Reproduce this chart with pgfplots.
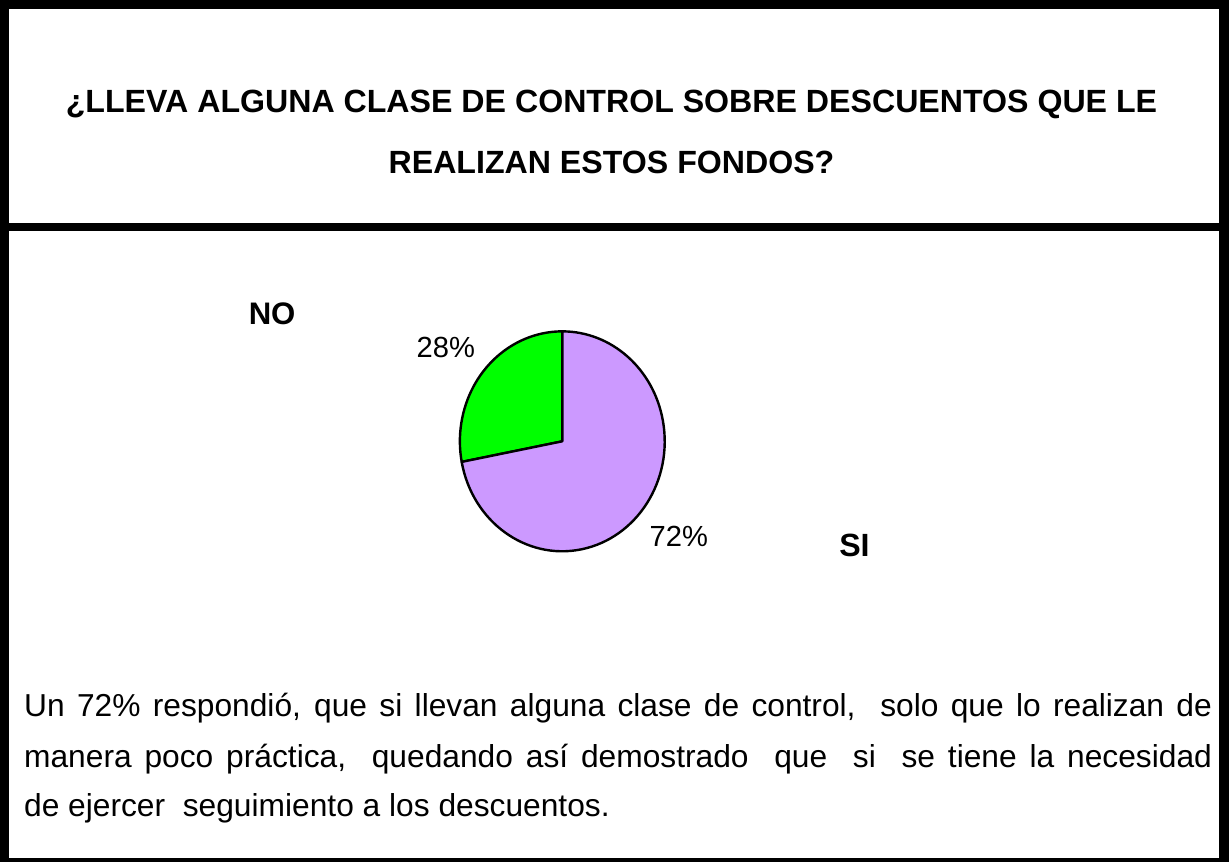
\documentclass[border=0pt]{standalone}
\usepackage{pgfplots}
\usepackage{pgfplotstable}
\pgfplotsset{compat=1.18}
\usepackage{fontspec}
\setmainfont{Liberation Sans}
\definecolor{sigreen}{HTML}{00FF00}
\definecolor{silila}{HTML}{CC99FF}
\pgfplotstableread{
label value
SI 72
NO 28
}\piedata
\begin{document}
\begin{tikzpicture}
\pgfplotstablegetelem{0}{value}\of\piedata \let\vsi\pgfplotsretval
\pgfplotstablegetelem{1}{value}\of\piedata \let\vno\pgfplotsretval
\pgfmathsetmacro{\angA}{90}
\pgfmathsetmacro{\angB}{90+3.6*\vno}
\pgfmathsetmacro{\angC}{\angB+3.6*\vsi}
\begin{axis}[
  width=614.5pt, height=430.5pt, scale only axis,
  xmin=0, xmax=1229, ymin=0, ymax=861, y dir=reverse,
  hide axis, clip=false,
  every node/.style={inner sep=0pt, outer sep=0pt},
]
% frame
\fill[black] (axis cs:5,3) rectangle (axis cs:14,861);
\fill[black] (axis cs:5,3) rectangle (axis cs:1229,12);
\fill[black] (axis cs:1219,3) rectangle (axis cs:1229,861);
\fill[black] (axis cs:5,857) rectangle (axis cs:1229,861);
\fill[black] (axis cs:5,225) rectangle (axis cs:1229,233);
% title
\node[anchor=base, font=\fontsize{16pt}{19pt}\selectfont\bfseries] at (axis cs:614,115) {¿LLEVA ALGUNA CLASE DE CONTROL SOBRE DESCUENTOS QUE LE};
\node[anchor=base, font=\fontsize{16pt}{19pt}\selectfont\bfseries] at (axis cs:614,176) {REALIZAN ESTOS FONDOS?};
% pie
\filldraw[fill=sigreen, draw=black, line width=1.2pt, line join=round] (axis cs:565,442.5) -- +(\angA:51pt and 54.75pt) arc[start angle=\angA, end angle=\angB, x radius=51pt, y radius=54.75pt] -- cycle;
\filldraw[fill=silila, draw=black, line width=1.2pt, line join=round] (axis cs:565,442.5) -- +(\angB:51pt and 54.75pt) arc[start angle=\angB, end angle=\angC, x radius=51pt, y radius=54.75pt] -- cycle;
% labels
\node[anchor=base, font=\fontsize{14.5pt}{17pt}\selectfont] at (axis cs:449,359) {\vno\%};
\node[anchor=base, font=\fontsize{14.5pt}{17pt}\selectfont] at (axis cs:681,547) {\vsi\%};
\node[anchor=base, font=\fontsize{15.5pt}{19pt}\selectfont\bfseries] at (axis cs:276,326) {NO};
\node[anchor=base, font=\fontsize{16pt}{19pt}\selectfont\bfseries] at (axis cs:856,557) {SI};
% body text
\node[anchor=base west, font=\fontsize{15.8pt}{19pt}\selectfont] at (axis cs:22,717) {\makebox[591.5pt][s]{Un 72\% respondió, que si llevan alguna clase de control,\ \ solo que lo realizan de}};
\node[anchor=base west, font=\fontsize{15.8pt}{19pt}\selectfont] at (axis cs:22,767) {\makebox[591.5pt][s]{manera poco práctica,\ \ quedando así demostrado\ \ que\ \ si\ \ se tiene la necesidad}};
\node[anchor=base west, font=\fontsize{15.8pt}{19pt}\selectfont] at (axis cs:22,816) {de ejercer\ \ seguimiento a los descuentos.};
\end{axis}
\end{tikzpicture}
\end{document}
